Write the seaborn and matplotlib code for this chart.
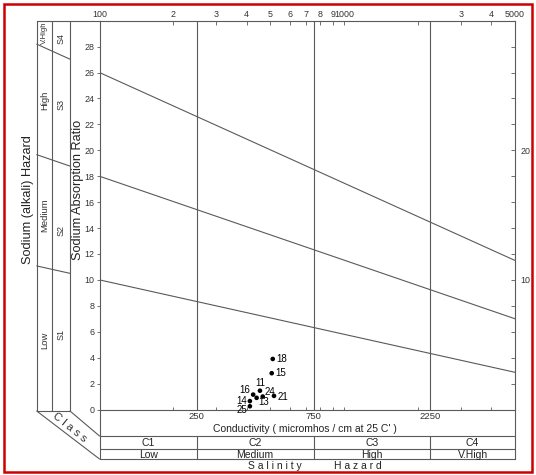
import numpy as np
import pandas as pd
import matplotlib
matplotlib.use("Agg")
import matplotlib.pyplot as plt
import seaborn as sns
from matplotlib.lines import Line2D
from matplotlib.patches import Rectangle
from matplotlib import transforms

# ---------------- data ----------------
sample_ids = ["18", "15", "11", "16", "24", "21", "13", "14", "25"]
conductivity = [511, 506, 453, 425, 465, 517, 439, 412, 412]
sar = [3.9, 2.8, 1.45, 1.15, 1.0, 1.05, 0.9, 0.65, 0.25]

boundary_ec = [100, 5000]
s1_s2 = [10.0, 2.87]
s2_s3 = [18.0, 7.0]
s3_s4 = [26.0, 11.5]

class_edges = [250, 750, 2250]
salinity_classes = ["C1", "C2", "C3", "C4"]
salinity_levels = ["Low", "Medium", "High", "V.High"]
sodium_classes = ["S1", "S2", "S3", "S4"]
sodium_levels = ["Low", "Medium", "High", "V.High"]

top_ticks = [100, 200, 300, 400, 500, 600, 700, 800, 900, 1000, 2000, 3000, 4000, 5000]
top_labels = ["100", "2", "3", "4", "5", "6", "7", "8", "9", "1000", "", "3", "4", "5000"]
bottom_minor = [200, 300, 400, 500, 600, 700, 800, 900, 1000, 2000, 3000, 4000]
sar_ticks = list(range(0, 30, 2))
right_ticks = list(range(2, 30, 2))
right_labels = ["10" if t == 10 else ("20" if t == 20 else "") for t in right_ticks]

# ---------------- style ----------------
sns.set_style("white")
plt.rcParams["font.family"] = ["Liberation Sans", "DejaVu Sans"]
LC = "#5a5a5a"
LW = 0.8
TC = "#222222"

W, H = 536, 475
fig = plt.figure(figsize=(W / 100, H / 100), dpi=100)
L, R, T, B = 99.5, 515.0, 20.7, 409.5
ax = fig.add_axes([L / W, 1 - B / H, (R - L) / W, (B - T) / H])
ax.set_xscale("log")
ax.set_xlim(100, 5000)
ax.set_ylim(0, 30)

# pixel (top-left origin) -> figure transform
PX = transforms.Affine2D().scale(1 / W, -1 / H).translate(0, 1) + fig.transFigure

def fline(x0, y0, x1, y1, **kw):
    fig.add_artist(Line2D([x0, x1], [y0, y1], transform=PX, color=LC, lw=LW, **kw))

def ftext(x, y, s, **kw):
    fig.text(x, y, s, transform=PX, **kw)

# hazard boundary lines
lines_df = pd.DataFrame({
    "ec": boundary_ec * 3,
    "sar": s1_s2 + s2_s3 + s3_s4,
    "boundary": ["S1/S2"] * 2 + ["S2/S3"] * 2 + ["S3/S4"] * 2,
})
sns.lineplot(data=lines_df, x="ec", y="sar", units="boundary", estimator=None,
             color=LC, lw=LW, ax=ax, legend=False)

# class vertical lines
for e in class_edges:
    ax.axvline(e, color=LC, lw=LW, zorder=1)

# samples
pts = pd.DataFrame({"ec": conductivity, "sar": sar, "id": sample_ids})
sns.scatterplot(data=pts, x="ec", y="sar", color="black", s=11, edgecolor="none",
                ax=ax, zorder=5, legend=False)
label_pos = {"18": (2.5, 0, "left", "center"), "15": (2.5, 0, "left", "center"),
             "11": (0, 2, "center", "bottom"), "16": (-2, 3.2, "right", "center"),
             "24": (1.5, 3, "left", "center"), "21": (2.5, -0.5, "left", "center"),
             "13": (1.0, -3, "left", "center"), "14": (-2, 0.3, "right", "center"),
             "25": (-2, -2.6, "right", "center")}
for e, s, i in zip(conductivity, sar, sample_ids):
    dx, dy, ha, va = label_pos[i]
    ax.annotate(i, (e, s), xytext=(dx, dy), textcoords="offset points",
                ha=ha, va=va, fontsize=7.0, color="black")

# axes styling
for sp in ax.spines.values():
    sp.set_color(LC)
    sp.set_linewidth(LW)
ax.set_xlabel("")
ax.set_ylabel("")
ax.set_yticks(sar_ticks)
ax.set_yticklabels([str(t) for t in sar_ticks])
ax.tick_params(axis="y", direction="out", length=2.5, width=0.6, colors=LC,
               labelcolor="#333333", labelsize=6.4, pad=1)
ax.set_xticks(class_edges)
ax.set_xticklabels([str(c) for c in class_edges])
ax.set_xticks(bottom_minor, minor=True)
ax.set_xticklabels([], minor=True)
ax.tick_params(axis="x", which="both", direction="in", length=2.5, width=0.6,
               colors=LC, labelcolor="#333333", labelsize=6.8, pad=1.5)

# top axis
axt = ax.twiny()
axt.set_xscale("log")
axt.set_xlim(100, 5000)
axt.set_xticks(top_ticks)
axt.set_xticklabels(top_labels)
axt.xaxis.set_minor_locator(matplotlib.ticker.NullLocator())
axt.tick_params(axis="x", direction="in", length=3, width=0.6, colors=LC,
                labelcolor="#333333", labelsize=6.4, pad=1)
for sp in axt.spines.values():
    sp.set_visible(False)

# right axis
axr = ax.twinx()
axr.set_ylim(0, 30)
axr.set_yticks(right_ticks)
axr.set_yticklabels(right_labels)
axr.tick_params(axis="y", direction="in", length=3, width=0.6, colors=LC,
                labelcolor="#333333", labelsize=6.4, pad=4)
for sp in axr.spines.values():
    sp.set_visible(False)

# ---------------- left panel (sodium hazard) ----------------
cx = [36.7, 51.7, 70.0]
for x in cx:
    fline(x, T, x, 411)
fline(cx[0], T, L, T)
fline(cx[0], 411, cx[2], 411)
# boundary extensions into the left panel
fig.canvas.draw()
for ys in (s1_s2, s2_s3, s3_s4):
    ecs = []
    for xp in (cx[0], cx[2]):
        dx_, _ = ax.transData.inverted().transform((PX.transform((xp, 0))[0], 0))
        ecs.append(dx_)
    frac = [np.log10(e / boundary_ec[0]) / np.log10(boundary_ec[1] / boundary_ec[0]) for e in ecs]
    yv = [ys[0] + (ys[1] - ys[0]) * f for f in frac]
    ax.plot(ecs, yv, color=LC, lw=LW, clip_on=False)

# text in left panel
lev_y = [340, 215, 100, 33]
cls_y = [335, 230, 104, 38]
lev_size = [6.8, 6.8, 6.8, 5.6]
for lv, yy, fs in zip(sodium_levels, lev_y, lev_size):
    ftext(44.4, yy, lv, rotation=90, ha="center", va="center", fontsize=fs, color="#333333")
for c, yy in zip(sodium_classes, cls_y):
    ftext(61.2, yy, c, rotation=90, ha="center", va="center", fontsize=6.5, color="#333333")
ftext(28.5, 200, "Sodium (alkali) Hazard", rotation=90, ha="center", va="center",
      fontsize=9.2, color=TC)
ftext(77.5, 190, "Sodium Absorption Ratio", rotation=90, ha="center", va="center",
      fontsize=9.2, color=TC)

# class diagonal strip
fline(cx[0], 411, L, 459)
fline(cx[2], 411, L, 436)
ftext(70, 427, "C l a s s", rotation=-39, ha="center", va="center",
      fontsize=8, color="#333333", rotation_mode="anchor")

# ---------------- bottom table ----------------
fline(L, B, L, 459)
fline(R, B, R, 459)
for yy in (436, 449, 459):
    fline(L, yy, R, yy)
sep_px = [PX.inverted().transform((ax.transData.transform((e, 0))[0], 0))[0] for e in class_edges]
for xp in sep_px:
    fline(xp, 436, xp, 459)
edges = [L] + sep_px + [R]
for k in range(4):
    xc = (edges[k] + edges[k + 1]) / 2
    ftext(xc, 443, salinity_classes[k], ha="center", va="center", fontsize=7.5, color=TC)
    ftext(xc, 454.5, salinity_levels[k], ha="center", va="center", fontsize=7.5, color=TC)
ftext(305, 429, "Conductivity ( micromhos / cm at 25 C' )", ha="center", va="center",
      fontsize=7.5, color=TC)
ftext(275, 466, "S a l i n i t y", ha="center", va="center", fontsize=7.5, color=TC)
ftext(358, 466, "H a z a r d", ha="center", va="center", fontsize=7.5, color=TC)

# red frame
fig.add_artist(Rectangle((4 / W, 1 - 472 / H), 528 / W, 468 / H, transform=fig.transFigure,
                         fill=False, edgecolor="#cc0000", lw=1.8))

fig.savefig("out.png", dpi=100)
